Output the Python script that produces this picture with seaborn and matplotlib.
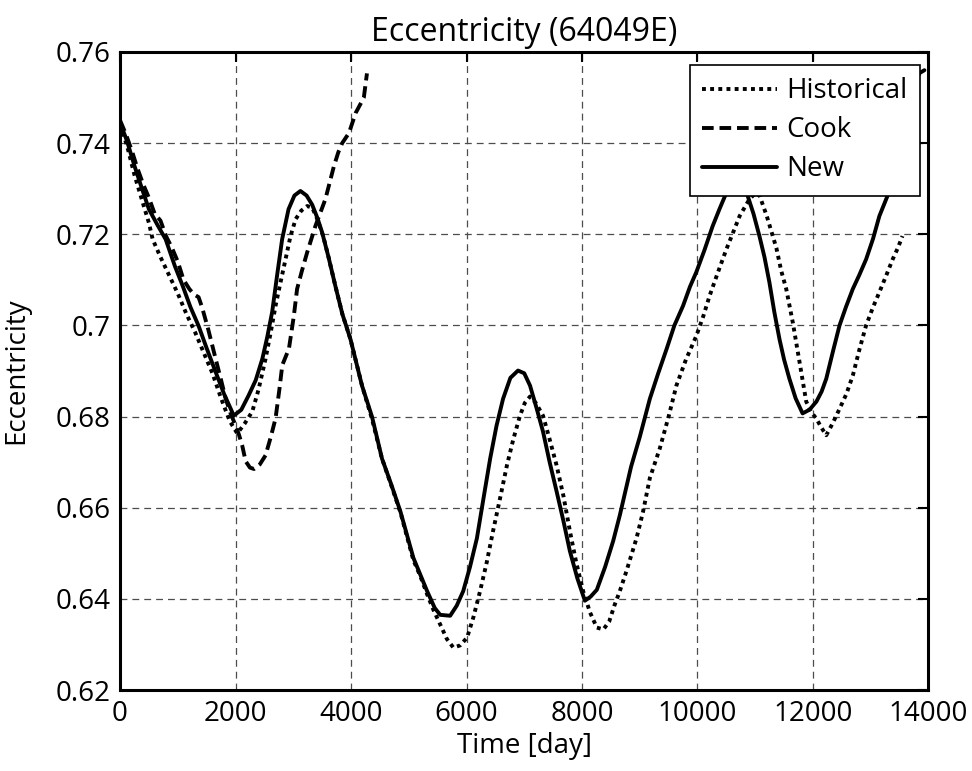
import matplotlib
matplotlib.use("Agg")
import matplotlib.pyplot as plt
import seaborn as sns
import pandas as pd

# --- data ---
hist_t = [0, 120, 250, 380, 500, 565, 700, 850, 1000, 1150, 1300, 1450, 1600, 1750, 1900,
          2030, 2160, 2290, 2400, 2520, 2610, 2693, 2780, 2866, 2950, 3040, 3140, 3242, 3330,
          3420, 3520, 3610, 3730, 3850, 3990, 4190, 4363, 4536, 4700, 4855, 5080, 5200, 5318,
          5430, 5544, 5660, 5773, 5890, 6010, 6120, 6235, 6350, 6460, 6580, 6700, 6810, 6926,
          7010, 7100, 7200, 7325, 7440, 7560, 7680, 7790, 7900, 8020, 8140, 8257, 8370, 8470,
          8560, 8655, 8770, 8944, 9055, 9175, 9347, 9500, 9635, 9800, 9980, 10100, 10210, 10350,
          10500, 10620, 10730, 10900, 11000, 11075, 11200, 11366, 11450, 11537, 11650, 11767,
          11883, 11970, 12056, 12150, 12230, 12340, 12460, 12580, 12690, 12800, 12920, 13040,
          13150, 13270, 13380, 13470, 13550]
hist_e = [0.7440, 0.7395, 0.7330, 0.7275, 0.7225, 0.7189, 0.7150, 0.7110, 0.7070, 0.7025,
          0.6985, 0.6940, 0.6895, 0.6840, 0.6790, 0.6763, 0.6785, 0.6811, 0.6860, 0.6927,
          0.6985, 0.7043, 0.7095, 0.7145, 0.7195, 0.7233, 0.7252, 0.7262, 0.7258, 0.7232,
          0.7195, 0.7150, 0.7086, 0.7025, 0.6970, 0.6868, 0.6795, 0.6708, 0.6648, 0.6590,
          0.6485, 0.6450, 0.6410, 0.6375, 0.6344, 0.6312, 0.6293, 0.6298, 0.6315, 0.6360,
          0.6417, 0.6480, 0.6549, 0.6620, 0.6693, 0.6750, 0.6802, 0.6830, 0.6844, 0.6830,
          0.6802, 0.6750, 0.6693, 0.6625, 0.6549, 0.6480, 0.6417, 0.6370, 0.6337, 0.6333,
          0.6350, 0.6385, 0.6417, 0.6461, 0.6533, 0.6590, 0.6665, 0.6730, 0.6800, 0.6868,
          0.6925, 0.6977, 0.7020, 0.7065, 0.7115, 0.7167, 0.7205, 0.7240, 0.7277, 0.7290,
          0.7285, 0.7240, 0.7170, 0.7120, 0.7080, 0.7007, 0.6920, 0.6833, 0.6810, 0.6796,
          0.6775, 0.6759, 0.6785, 0.6817, 0.6850, 0.6890, 0.6945, 0.7000, 0.7040, 0.7073,
          0.7110, 0.7145, 0.7170, 0.7196]

cook_t = [0, 100, 200, 300, 400, 500, 600, 700, 800, 900, 1000, 1100, 1200, 1280, 1360,
          1420, 1530, 1655, 1750, 1830, 1920, 2000, 2060, 2115, 2175, 2250, 2320, 2420, 2520,
          2610, 2693, 2760, 2810, 2925, 3010, 3066, 3150, 3240, 3383, 3556, 3703, 3780, 3847,
          3964, 4080, 4160, 4222, 4276]
cook_e = [0.7450, 0.7420, 0.7385, 0.7345, 0.7310, 0.7280, 0.7245, 0.7230, 0.7195, 0.7170,
          0.7140, 0.7100, 0.7080, 0.7068, 0.7062, 0.7040, 0.6990, 0.6927, 0.6880, 0.6839,
          0.6805, 0.6781, 0.6760, 0.6737, 0.6702, 0.6688, 0.6685, 0.6695, 0.6715, 0.6755,
          0.6796, 0.6860, 0.6913, 0.6949, 0.7021, 0.7080, 0.7120, 0.7160, 0.7218, 0.7277,
          0.7349, 0.7380, 0.7400, 0.7422, 0.7466, 0.7485, 0.7500, 0.7553]

new_t = [0, 120, 250, 380, 500, 650, 790, 950, 1084, 1220, 1360, 1500, 1655, 1800, 1970,
         2100, 2225, 2350, 2465, 2550, 2635, 2720, 2807, 2918, 3020, 3124, 3230, 3327, 3420,
         3500, 3610, 3730, 3850, 3990, 4190, 4363, 4536, 4700, 4855, 5080, 5318, 5450, 5544,
         5717, 5830, 5943, 6060, 6180, 6300, 6410, 6520, 6633, 6760, 6892, 7000, 7100, 7210,
         7325, 7440, 7560, 7680, 7790, 7920, 8050, 8150, 8257, 8400, 8540, 8656, 8850, 9000,
         9175, 9320, 9467, 9600, 9750, 9870, 9980, 10120, 10263, 10380, 10500, 10620, 10720,
         10800, 10870, 10970, 11073, 11160, 11245, 11330, 11420, 11500, 11592, 11700, 11820,
         11940, 12060, 12150, 12230, 12350, 12460, 12570, 12690, 12800, 12920, 13040, 13150,
         13290, 13420, 13560, 13720, 13850, 13930]
new_e = [0.7445, 0.7405, 0.7350, 0.7300, 0.7255, 0.7220, 0.7189, 0.7130, 0.7087, 0.7040,
         0.6999, 0.6950, 0.6898, 0.6850, 0.6802, 0.6815, 0.6846, 0.6880, 0.6927, 0.6975,
         0.7030, 0.7110, 0.7189, 0.7255, 0.7285, 0.7295, 0.7285, 0.7265, 0.7235, 0.7204,
         0.7150, 0.7086, 0.7025, 0.6970, 0.6868, 0.6800, 0.6708, 0.6650, 0.6592, 0.6490,
         0.6417, 0.6380, 0.6365, 0.6363, 0.6385, 0.6417, 0.6470, 0.6533, 0.6625, 0.6708,
         0.6780, 0.6839, 0.6885, 0.6901, 0.6895, 0.6868, 0.6820, 0.6767, 0.6700, 0.6636,
         0.6570, 0.6505, 0.6445, 0.6396, 0.6405, 0.6420, 0.6470, 0.6527, 0.6584, 0.6690,
         0.6755, 0.6839, 0.6895, 0.6949, 0.7000, 0.7043, 0.7085, 0.7117, 0.7165, 0.7218,
         0.7255, 0.7291, 0.7310, 0.7315, 0.7300, 0.7284, 0.7245, 0.7196, 0.7150, 0.7095,
         0.7030, 0.6970, 0.6925, 0.6883, 0.6840, 0.6807, 0.6815, 0.6833, 0.6855, 0.6883,
         0.6945, 0.7000, 0.7040, 0.7080, 0.7110, 0.7145, 0.7190, 0.7240, 0.7284, 0.7350,
         0.7430, 0.7524, 0.7554, 0.7560]

x_ticks = [0, 2000, 4000, 6000, 8000, 10000, 12000, 14000]
y_ticks = [0.62, 0.64, 0.66, 0.68, 0.70, 0.72, 0.74, 0.76]
y_tick_labels = ["0.62", "0.64", "0.66", "0.68", "0.7", "0.72", "0.74", "0.76"]

# --- style ---
sns.set_theme(style="white")
plt.rcParams["font.family"] = ["Open Sans", "DejaVu Sans"]
plt.rcParams["text.color"] = "black"
plt.rcParams["axes.labelcolor"] = "black"

fig = plt.figure(figsize=(9.72, 7.71), dpi=100)
ax = fig.add_axes([0.1235, 0.105, 0.8317, 0.8276])

lw = 2.8
sns.lineplot(x=hist_t, y=hist_e, ax=ax, color="black", linewidth=lw,
             linestyle=(0, (1, 1.1)), label="Historical", estimator=None, sort=False)
sns.lineplot(x=cook_t, y=cook_e, ax=ax, color="black", linewidth=lw,
             linestyle=(0, (3.0, 1.5)), label="Cook", estimator=None, sort=False)
sns.lineplot(x=new_t, y=new_e, ax=ax, color="black", linewidth=lw,
             linestyle="-", label="New", estimator=None, sort=False)

ax.set_xlim(0, 14000)
ax.set_ylim(0.62, 0.76)
ax.set_xticks(x_ticks)
ax.set_yticks(y_ticks)
ax.set_yticklabels(y_tick_labels)

ax.grid(True, color="0.3", linestyle=(0, (5.5, 4)), linewidth=0.9)
for s in ax.spines.values():
    s.set_color("black")
    s.set_linewidth(2.2)
ax.tick_params(direction="in", length=7, width=1.5, top=True, right=True,
               labelsize=20, colors="black", pad=7)

ax.set_title("Eccentricity (64049E)", fontsize=23, pad=8, color="black")
ax.set_xlabel("Time [day]", fontsize=20, labelpad=3, color="black")
ax.set_ylabel("Eccentricity", fontsize=20, labelpad=18, color="black")

leg = ax.legend(loc="upper right", bbox_to_anchor=(0.989, 0.98), fontsize=20,
                frameon=True, fancybox=False, framealpha=1, edgecolor="black",
                handlelength=2.7, handletextpad=0.3, labelspacing=0.4,
                borderpad=0.45, borderaxespad=0)
leg.get_frame().set_linewidth(1.2)
for t in leg.get_texts():
    t.set_color("black")

fig.savefig("out.png", dpi=100)
